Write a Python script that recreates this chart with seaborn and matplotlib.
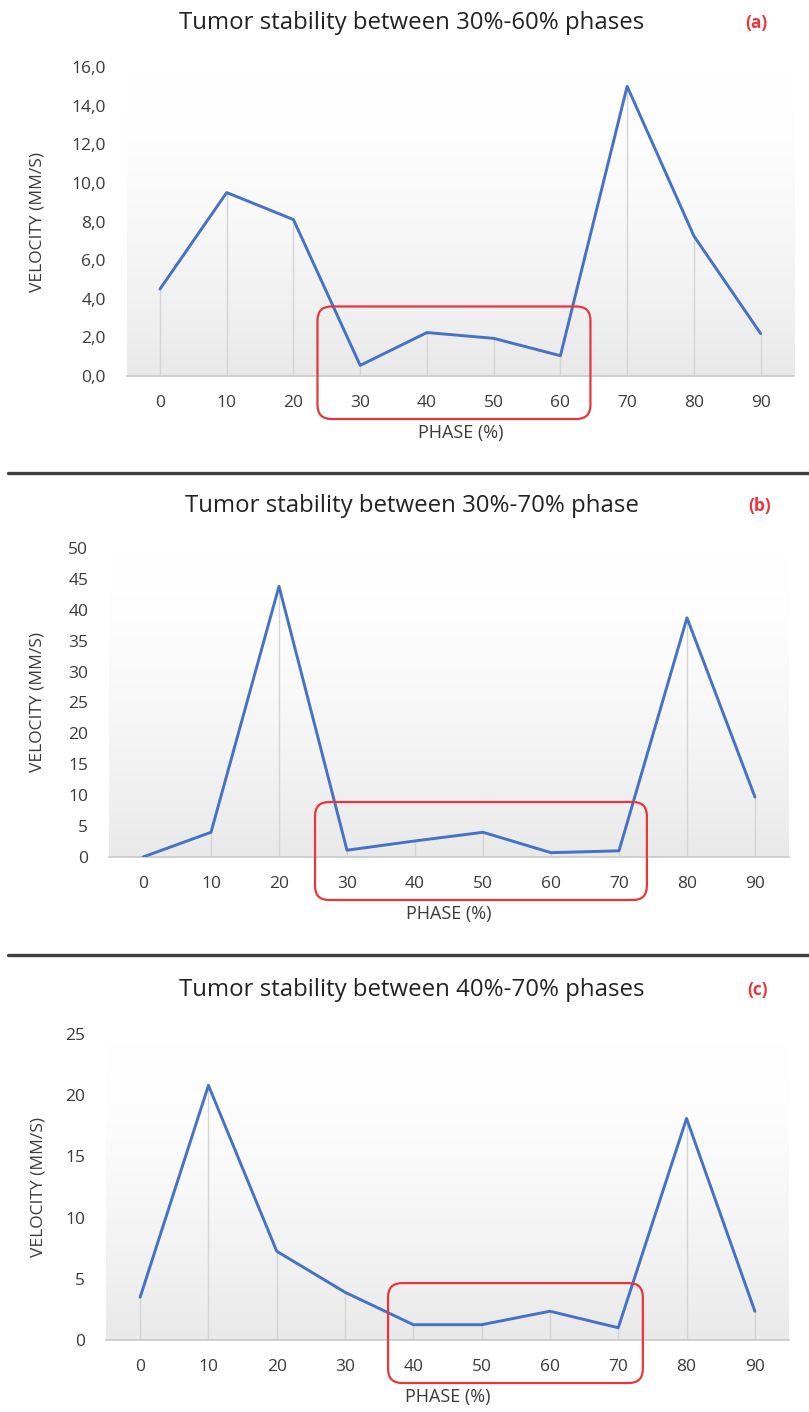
import numpy as np
import pandas as pd
import matplotlib
matplotlib.use("Agg")
import matplotlib.pyplot as plt
import seaborn as sns
from matplotlib.lines import Line2D
from matplotlib.patches import FancyBboxPatch
from matplotlib.transforms import IdentityTransform
from matplotlib.colors import LinearSegmentedColormap
from matplotlib.ticker import FuncFormatter

# data
phases = [0, 10, 20, 30, 40, 50, 60, 70, 80, 90]
vel_a = [4.5, 9.5, 8.1, 0.55, 2.25, 1.95, 1.05, 15.0, 7.25, 2.2]
vel_b = [0.0, 4.0, 43.8, 1.1, 2.6, 4.0, 0.7, 1.0, 38.7, 9.7]
vel_c = [3.5, 20.8, 7.25, 3.9, 1.25, 1.25, 2.35, 1.0, 18.1, 2.35]

titles = [
    "Tumor stability between 30%-60% phases",
    "Tumor stability between 30%-70% phase",
    "Tumor stability between 40%-70% phases",
]
tags = ["(a)", "(b)", "(c)"]
y_max = [16, 50, 25]
y_step = [2, 5, 5]
# highlighted window: phase from, phase to, velocity top
box_lo = [23.6, 25.3, 36.3]
box_hi = [64.5, 74.1, 73.6]
box_top = [3.6, 8.9, 4.65]

W, H = 809, 1412
# axes rectangles in pixels: left, right, y of zero, y of max
axes_px = [(126.6, 794, 376, 67), (109, 789, 857, 548), (106, 789, 1340, 1034)]
title_y = [23, 506, 990]
tag_x = [756, 760, 758]
sep_y = [473, 955]

line_blue = "#4472C4"
red = "#E8363C"

sns.set_theme(style="white")
plt.rcParams["font.family"] = ["Open Sans", "DejaVu Sans"]

fig = plt.figure(figsize=(W / 100, H / 100), dpi=100)
grad_cmap = LinearSegmentedColormap.from_list("bg", ["#ffffff", "#e9e9e9"])
# smooth fade: stays light near the top, darker towards the axis
grad = (np.linspace(0, 1, 256) ** 1.6).reshape(-1, 1)

data = {"a": vel_a, "b": vel_b, "c": vel_c}
for i, key in enumerate(["a", "b", "c"]):
    l, r, y0, y1 = axes_px[i]
    ax = fig.add_axes([l / W, 1 - y0 / H, (r - l) / W, (y0 - y1) / H])
    df = pd.DataFrame({"phase": phases, "velocity": data[key]})

    ax.imshow(grad, extent=[0, 1, 0, 1], transform=ax.transAxes, aspect="auto",
              cmap=grad_cmap, vmin=0, vmax=1, zorder=0)
    ax.vlines(df["phase"], 0, df["velocity"], color="#d4d4d4", lw=1, zorder=1)
    sns.lineplot(data=df, x="phase", y="velocity", ax=ax, color=line_blue,
                 linewidth=2.1, zorder=3)

    ax.set_xlim(-5, 95)
    ax.set_ylim(0, y_max[i])
    ax.set_xticks(phases)
    ax.set_yticks(np.arange(0, y_max[i] + 0.1, y_step[i]))
    if key == "a":
        ax.yaxis.set_major_formatter(FuncFormatter(lambda v, p: f"{v:.1f}".replace(".", ",")))
    else:
        ax.yaxis.set_major_formatter(FuncFormatter(lambda v, p: f"{v:.0f}"))
    ax.tick_params(axis="x", length=0, pad=14, labelsize=12.5, labelcolor="#3a3a3a")
    ax.tick_params(axis="y", length=0, pad=15, labelsize=12.5, labelcolor="#3a3a3a")
    for s in ["top", "right", "left"]:
        ax.spines[s].set_visible(False)
    ax.spines["bottom"].set_color("#c9c9c9")
    ax.spines["bottom"].set_linewidth(1.2)
    ax.set_facecolor("white")

    ax.set_xlabel("PHASE (%)", fontsize=13, color="#3a3a3a", labelpad=9)
    ax.set_ylabel("VELOCITY (MM/S)", fontsize=12.5, color="#3a3a3a")
    ax.yaxis.set_label_coords((46 - l) / (r - l), 0.5)

    fig.text(412 / W, 1 - title_y[i] / H, titles[i], ha="center", va="center",
             fontsize=17.3, color="#222222")
    fig.text(tag_x[i] / W, 1 - title_y[i] / H, tags[i], ha="center", va="center",
             fontsize=12.5, color=red, fontweight="bold")

    # rounded highlight box, in pixel space so the corners stay round
    fig.canvas.draw()
    x0, yt = ax.transData.transform((box_lo[i], box_top[i]))
    x1, yz = ax.transData.transform((box_hi[i], 0))
    yb = yz - 43
    box = FancyBboxPatch((x0, yb), x1 - x0, yt - yb,
                         boxstyle="round,pad=0,rounding_size=14",
                         transform=IdentityTransform(), fill=False,
                         edgecolor=red, linewidth=1.6, zorder=5)
    fig.add_artist(box)

for y in sep_y:
    fig.add_artist(Line2D([8 / W, 1], [1 - y / H, 1 - y / H], transform=fig.transFigure,
                          color="#3f3f3f", lw=2.4))

fig.savefig("out.png", dpi=100)
